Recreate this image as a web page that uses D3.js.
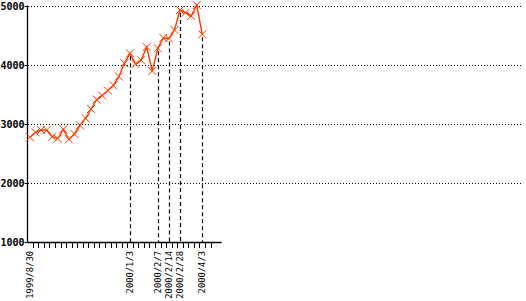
<!DOCTYPE html>
<html><head><meta charset="utf-8">
<script src="https://cdn.jsdelivr.net/npm/d3@7"></script>
<style>html,body{margin:0;padding:0;background:#fff;}svg{display:block;}</style>
</head><body>
<svg id="c" width="526" height="301"></svg>
<script>
const dates = ["1999/8/30","1999/9/6","1999/9/13","1999/9/20","1999/9/27","1999/10/4","1999/10/11","1999/10/18","1999/10/25","1999/11/1","1999/11/8","1999/11/15","1999/11/22","1999/11/29","1999/12/6","1999/12/13","1999/12/20","1999/12/27","2000/1/3","2000/1/10","2000/1/17","2000/1/24","2000/1/31","2000/2/7","2000/2/10","2000/2/14","2000/2/21","2000/2/28","2000/3/6","2000/3/13","2000/3/27","2000/4/3"];
const values = [2775,2859,2898,2898,2785,2754,2910,2741,2831,2978,3097,3254,3415,3483,3568,3653,3805,4029,4198,4017,4080,4305,3898,4283,4458,4450,4593,4932,4886,4831,5017,4520];
const labeledDates = ["1999/8/30","2000/1/3","2000/2/7","2000/2/14","2000/2/28","2000/4/3"];
const dropDates = ["2000/1/3","2000/2/7","2000/2/14","2000/2/28","2000/4/3"];
const yTicks = [1000,2000,3000,4000,5000];
const gridTicks = [2000,3000,4000,5000];
const slotCount = 35;

const svg = d3.select("#c");
const x = d3.scaleLinear().domain([-0.5, slotCount - 0.5]).range([27.2, 221.7]);
const y = d3.scaleLinear().domain([1000, 5000]).range([242, 6]);
const idx = d => dates.indexOf(d);
const plotRight = 522;

// gridlines
svg.append("g").selectAll("line").data(gridTicks).join("line")
  .attr("x1", 28).attr("x2", plotRight)
  .attr("y1", d => Math.round(y(d)) + 0.5).attr("y2", d => Math.round(y(d)) + 0.5)
  .attr("stroke", "#000").attr("stroke-width", 1).attr("stroke-dasharray", "1,2");

// drop lines
svg.append("g").selectAll("line").data(dropDates).join("line")
  .attr("x1", d => Math.round(x(idx(d))) + 0.5).attr("x2", d => Math.round(x(idx(d))) + 0.5)
  .attr("y1", d => y(values[idx(d)]) + 3).attr("y2", 242)
  .attr("stroke", "#000").attr("stroke-width", 1.2).attr("stroke-dasharray", "4,3");

// y axis
const yAxis = d3.axisLeft(y).tickValues(yTicks).tickSize(3).tickPadding(0).tickFormat(d3.format("d"));
const gy = svg.append("g").attr("transform", "translate(27.5,0)").call(yAxis);
gy.select(".domain").attr("d", `M0,${y(5000)-0.5}V${y(1000)}`).attr("stroke", "#000").attr("stroke-width", 1.3);
gy.selectAll("text").attr("font-family", "DejaVu Sans Mono").attr("font-weight", "bold")
  .attr("font-size", "10px").attr("fill", "#000");
gy.selectAll(".tick line").attr("stroke", "#000");

// x axis line and ticks
const tickPos = d3.range(0, 33).map(i => i + 0.5);
const gx = svg.append("g");
gx.append("line").attr("x1", 27.5).attr("x2", x(slotCount - 0.5))
  .attr("y1", 242.5).attr("y2", 242.5).attr("stroke", "#000").attr("stroke-width", 1.3);
gx.selectAll("line.t").data(tickPos).join("line").attr("class", "t")
  .attr("x1", d => Math.round(x(d)) + 0.5).attr("x2", d => Math.round(x(d)) + 0.5)
  .attr("y1", 242).attr("y2", 248).attr("stroke", "#000").attr("stroke-width", 1);

// x labels
gx.selectAll("text").data(labeledDates).join("text")
  .attr("transform", d => `translate(${x(idx(d))},251) rotate(-90)`)
  .attr("text-anchor", "end").attr("dy", "0.35em")
  .attr("font-family", "DejaVu Sans Mono").attr("font-size", "8.8px").attr("fill", "#000")
  .text(d => d);

// line
const color = "#ff3c00";
svg.append("path").datum(values)
  .attr("d", d3.line().x((d, i) => x(i)).y(d => y(d)))
  .attr("fill", "none").attr("stroke", color).attr("stroke-width", 1.4);

// X markers
const s = 4;
svg.append("g").selectAll("path").data(values).join("path")
  .attr("d", (d, i) => {
    const cx = x(i), cy = y(d);
    return `M${cx-s},${cy-s}L${cx+s},${cy+s}M${cx-s},${cy+s}L${cx+s},${cy-s}`;
  })
  .attr("stroke", color).attr("stroke-width", 1).attr("fill", "none");
</script>
</body></html>
